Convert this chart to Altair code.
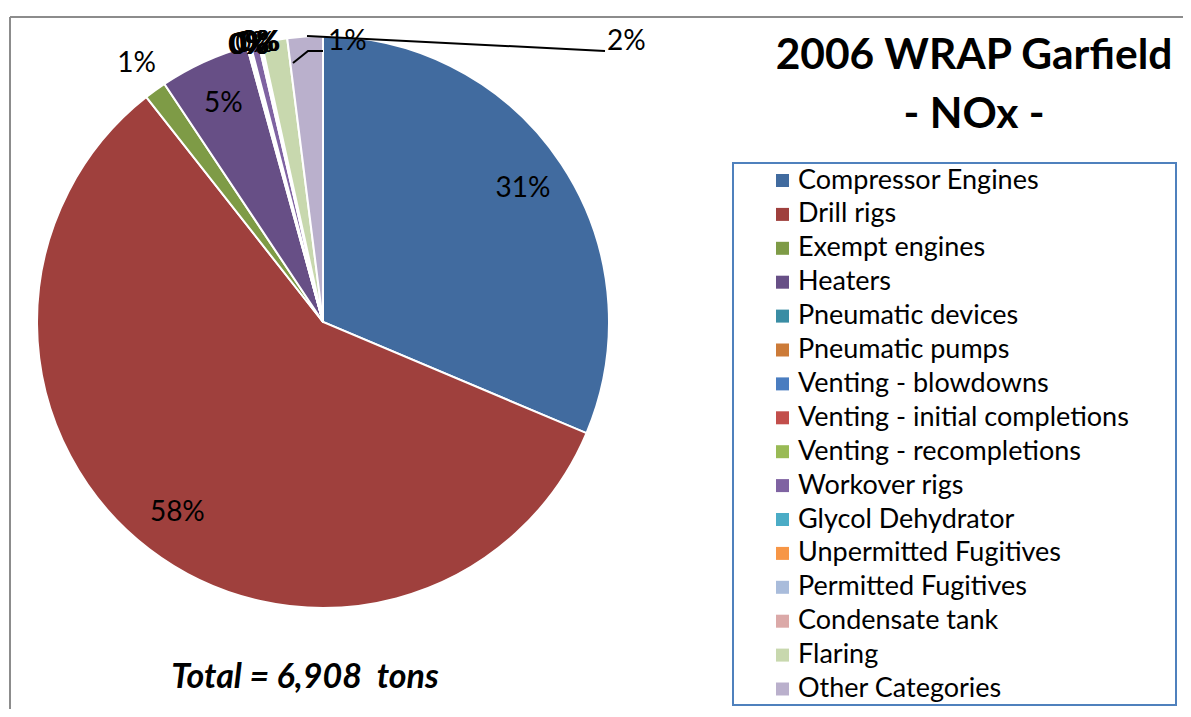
import altair as alt
import pandas as pd

# ---------------- data ----------------
categories = [
    "Compressor Engines", "Drill rigs", "Exempt engines", "Heaters",
    "Pneumatic devices", "Pneumatic pumps", "Venting - blowdowns",
    "Venting - initial completions", "Venting - recompletions", "Workover rigs",
    "Glycol Dehydrator", "Unpermitted Fugitives", "Permitted Fugitives",
    "Condensate tank", "Flaring", "Other Categories",
]
tons = [2166, 4010, 86, 350, 3, 3, 3, 3, 3, 31, 3, 3, 3, 3, 100, 138]
colors = [
    "#416B9F", "#9F403D", "#7E9B46", "#674F86", "#3A8DA4", "#CC7B38",
    "#4A7DC0", "#C24E4B", "#99BA55", "#7F63A2", "#4BACC6", "#F79646",
    "#A9BCDB", "#DBA9A8", "#C8D8AE", "#BAB0CC",
]
title_line1 = "2006 WRAP Garfield"
title_line2 = "- NOx -"
total_text = "Total = 6,908\u00a0 tons"

# callout labels that Excel moved away from their slices (annotation layout)
callout_cats = ["Flaring", "Other Categories"]
callout_x = [320, 599]
callout_y = [34, 34]
leader_id = ["f", "f", "f", "o", "o"]
leader_x = [285, 300, 315, 299, 597]
leader_y = [55, 43, 43, 28, 43]

# ---------------- layout ----------------
W, H = 1175, 701
CX, CY, R = 315, 314, 286
FONT = "Lato"

df = pd.DataFrame({"idx": list(range(len(categories))), "cat": categories, "tons": tons})

frame_df = pd.DataFrame({"a": [0]})
frame_top = alt.Chart(frame_df).mark_rule(color="#8C8C8C", strokeWidth=2).encode(
    x=alt.value(2), x2=alt.value(W), y=alt.value(9), y2=alt.value(9))
frame_left = alt.Chart(frame_df).mark_rule(color="#8C8C8C", strokeWidth=2).encode(
    x=alt.value(2), x2=alt.value(2), y=alt.value(9), y2=alt.value(H))
legend_box = alt.Chart(frame_df).mark_rect(fill=None, stroke="#4F81BD", strokeWidth=2).encode(
    x=alt.value(725), x2=alt.value(1168), y=alt.value(155), y2=alt.value(697))

pie = alt.Chart(df).mark_arc(radius=R, stroke="white", strokeWidth=2).encode(
    theta=alt.Theta("tons:Q", stack=True),
    order=alt.Order("idx:Q"),
    color=alt.Color("cat:N", sort=categories,
                    scale=alt.Scale(domain=categories, range=colors),
                    legend=alt.Legend(title=None)),
    x=alt.value(CX), y=alt.value(CY),
)

base = alt.Chart(df).transform_joinaggregate(
    total="sum(tons)"
).transform_window(
    cum="sum(tons)", sort=[alt.SortField("idx")], frame=[None, 0]
).transform_calculate(
    pct="datum.tons / datum.total",
    mid="(datum.cum - datum.tons / 2) / datum.total * 2 * PI",
    txt="format(datum.tons / datum.total, '.0%')",
)

callout_list = "[" + ",".join('"%s"' % c for c in callout_cats) + "]"
labels = base.transform_filter(
    "indexof(%s, datum.cat) < 0" % callout_list
).transform_calculate(
    r="datum.pct >= 0.03 ? 240 : (datum.pct >= 0.01 ? 318 : 286)",
).transform_calculate(
    lx=f"{CX} + datum.r * sin(datum.mid)",
    ly=f"{CY} - datum.r * cos(datum.mid)",
).mark_text(font=FONT, fontSize=28, color="black", baseline="middle", align="center").encode(
    x=alt.X("lx:Q", scale=None, axis=None),
    y=alt.Y("ly:Q", scale=None, axis=None),
    text="txt:N",
)

callout_df = pd.DataFrame({"cat": callout_cats, "cx": callout_x, "cy": callout_y})
callouts = base.transform_lookup(
    lookup="cat", from_=alt.LookupData(callout_df, "cat", ["cx", "cy"])
).transform_filter("isValid(datum.cx)").mark_text(
    font=FONT, fontSize=28, color="black", baseline="middle", align="left").encode(
    x=alt.X("cx:Q", scale=None, axis=None),
    y=alt.Y("cy:Q", scale=None, axis=None),
    text="txt:N",
)

leader_df = pd.DataFrame({"id": leader_id, "lx": leader_x, "ly": leader_y,
                          "o": list(range(len(leader_id)))})
leaders = alt.Chart(leader_df).mark_line(color="black", strokeWidth=2).encode(
    x=alt.X("lx:Q", scale=None, axis=None),
    y=alt.Y("ly:Q", scale=None, axis=None),
    detail="id:N", order="o:Q",
)

t1 = alt.Chart(pd.DataFrame({"t": [title_line1]})).mark_text(
    font=FONT, fontSize=42.5, fontWeight="bold", color="black", align="center", baseline="alphabetic"
).encode(text="t:N", x=alt.value(966), y=alt.value(61))
t2 = alt.Chart(pd.DataFrame({"t": [title_line2]})).mark_text(
    font=FONT, fontSize=42.5, fontWeight="bold", color="black", align="center", baseline="alphabetic"
).encode(text="t:N", x=alt.value(966), y=alt.value(120))
tot = alt.Chart(pd.DataFrame({"t": [total_text]})).mark_text(
    font=FONT, fontSize=34, fontWeight="bold", fontStyle="italic", color="black",
    align="center", baseline="alphabetic"
).encode(text="t:N", x=alt.value(297), y=alt.value(680))

chart = alt.layer(
    frame_top, frame_left, legend_box, pie, labels, callouts, leaders, t1, t2, tot
).properties(
    width=W, height=H, padding=0, autosize="none"
).configure_view(stroke=None).configure_legend(
    orient="none", legendX=761, legendY=159, padding=0,
    symbolType="square", symbolSize=169, symbolStrokeWidth=0,
    labelFont=FONT, labelFontSize=27, labelColor="black", labelOffset=2,
    labelLimit=500, rowPadding=5.9,
)

chart.save("out.html", embed_options={"renderer": "svg", "actions": False})
